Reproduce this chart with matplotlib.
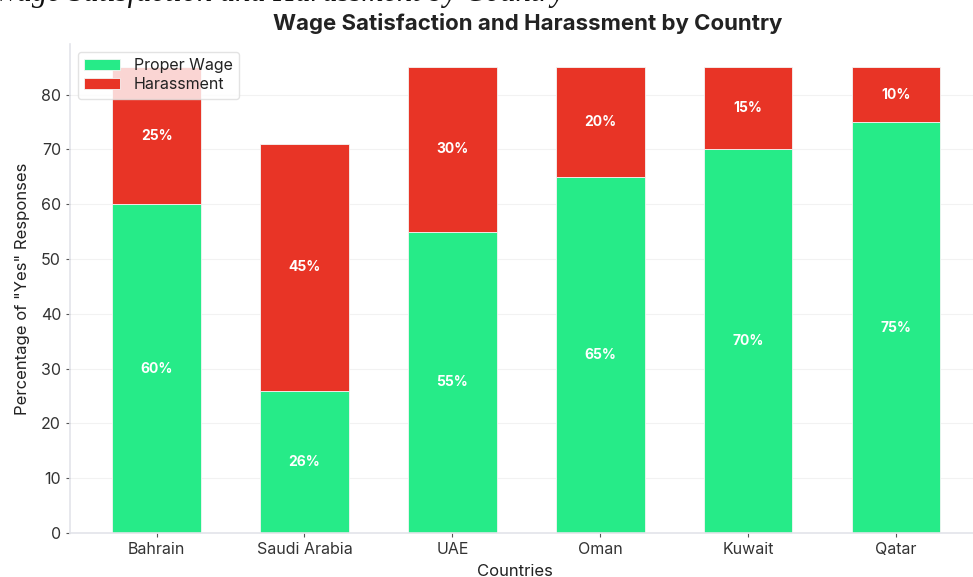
import matplotlib
matplotlib.use("Agg")
import matplotlib.pyplot as plt
import numpy as np

# Survey results per country (percent answering "yes")
countries = ["Bahrain", "Saudi Arabia", "UAE", "Oman", "Kuwait", "Qatar"]
proper_wage = [60, 26, 55, 65, 70, 75]
harassment = [25, 45, 30, 20, 15, 10]

green = "#26EB88"
red = "#E83426"

plt.rcParams["font.family"] = ["Inter", "DejaVu Sans"]

fig = plt.figure(figsize=(9.73, 5.77), dpi=100)
ax = fig.add_axes([0.072, 0.0763, 0.94, 0.8474])

x = np.arange(len(countries))
b1 = ax.bar(x, proper_wage, width=0.6, color=green, edgecolor="#f4f4f4",
            linewidth=0.6, label="Proper Wage", zorder=2)
b2 = ax.bar(x, harassment, width=0.6, bottom=proper_wage, color=red,
            edgecolor="#f4f4f4", linewidth=0.6, label="Harassment", zorder=2)

# value labels in the middle of each segment
for i in range(len(countries)):
    ax.text(x[i], proper_wage[i] / 2, f"{proper_wage[i]}%", ha="center",
            va="center", color="white", fontsize=10, fontweight="bold", zorder=3)
    ax.text(x[i], proper_wage[i] + harassment[i] / 2, f"{harassment[i]}%",
            ha="center", va="center", color="white", fontsize=10,
            fontweight="bold", zorder=3)

ax.set_xlim(-0.585, 5.6)
ax.set_ylim(0, 89.25)
ax.set_xticks(x)
ax.set_xticklabels(countries, fontsize=11.5, color="#333333")
ax.set_yticks(range(0, 81, 10))
ax.tick_params(axis="y", labelsize=11.5, labelcolor="#333333", color="#555555",
               length=3, width=0.8)
ax.tick_params(axis="x", color="#555555", length=3, width=0.8)
ax.yaxis.grid(True, color="#f2f2f2", linewidth=0.8, zorder=0)
ax.set_axisbelow(True)

for side in ["top", "right"]:
    ax.spines[side].set_visible(False)
for side in ["left", "bottom"]:
    ax.spines[side].set_color("#e3e4ea")
    ax.spines[side].set_linewidth(1.2)

ax.set_xlabel("Countries", fontsize=12, color="#222222")
ax.xaxis.set_label_coords(0.486, -0.064)
ax.set_ylabel('Percentage of "Yes" Responses', fontsize=12, color="#222222",
              labelpad=8)
ax.set_title("Wage Satisfaction and Harassment by Country", fontsize=16,
             fontweight="bold", color="#222222", pad=10, x=0.5)

leg = ax.legend(loc="upper left", fontsize=11.5, frameon=True, framealpha=0.8,
                borderpad=0.4, handlelength=2.2, handletextpad=0.9,
                labelspacing=0.25, bbox_to_anchor=(0.0, 1.0))
leg.get_frame().set_edgecolor("#dddddd")
for t in leg.get_texts():
    t.set_color("#222222")

# caption line that runs off the top of the page
fig.text(-0.006, 0.9985, "Wage Satisfaction and Harassment by Country",
         family=["Liberation Serif"], style="italic", fontsize=22,
         color="#111111", va="baseline", ha="left")

fig.savefig("out.png", dpi=100)
